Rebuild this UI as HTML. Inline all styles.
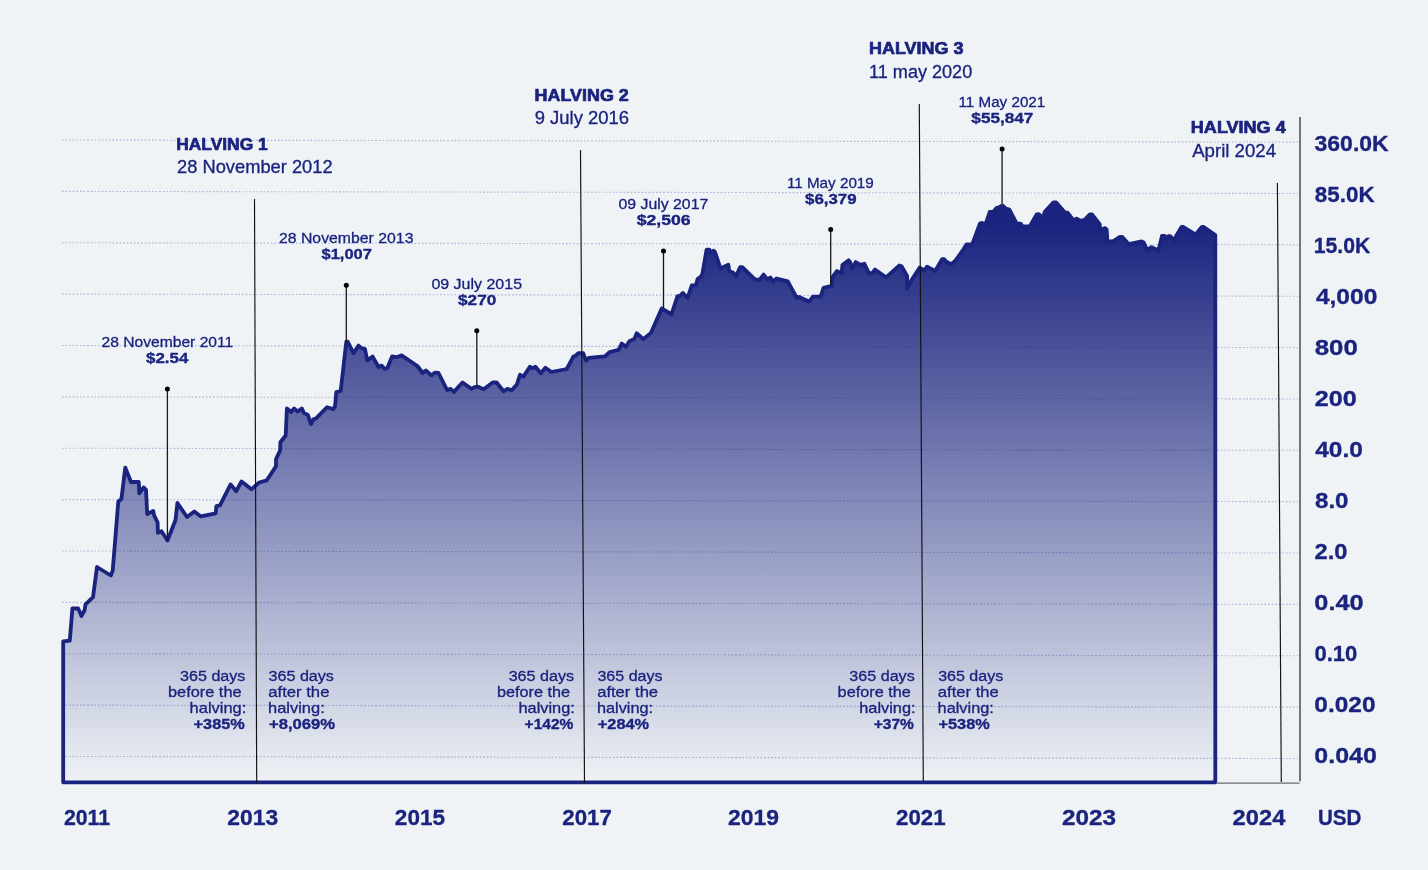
<!DOCTYPE html>
<html lang="en"><head><meta charset="utf-8"><title>Bitcoin halvings price chart</title>
<style>
html,body{margin:0;padding:0;background:#eff3f6;}
body{width:1428px;height:870px;overflow:hidden;}
svg{display:block;font-family:"Liberation Sans",Arial,Helvetica,sans-serif;}
</style></head><body>
<svg width="1428" height="870" viewBox="0 0 1428 870">
<defs>
<linearGradient id="g" gradientUnits="userSpaceOnUse" x1="0" y1="222" x2="0" y2="784">
<stop offset="0" stop-color="#1a237e" stop-opacity="1"/>
<stop offset="1" stop-color="#1a237e" stop-opacity="0"/>
</linearGradient>
</defs>
<rect width="1428" height="870" fill="#eff3f6"/>
<g stroke="#adb3da" stroke-width="1.1" stroke-dasharray="1.6 2" fill="none">
<line x1="62" y1="140.00" x2="1298" y2="142.10"/>
<line x1="62" y1="191.37" x2="1298" y2="193.47"/>
<line x1="62" y1="242.74" x2="1298" y2="244.84"/>
<line x1="62" y1="294.11" x2="1298" y2="296.21"/>
<line x1="62" y1="345.48" x2="1298" y2="347.58"/>
<line x1="62" y1="396.85" x2="1298" y2="398.95"/>
<line x1="62" y1="448.22" x2="1298" y2="450.32"/>
<line x1="62" y1="499.59" x2="1298" y2="501.69"/>
<line x1="62" y1="550.96" x2="1298" y2="553.06"/>
<line x1="62" y1="602.33" x2="1298" y2="604.43"/>
<line x1="62" y1="653.70" x2="1298" y2="655.80"/>
<line x1="62" y1="705.07" x2="1298" y2="707.17"/>
<line x1="62" y1="756.44" x2="1298" y2="758.54"/>
</g>
<path d="M63.2,782.3 L63.2,641.4 L69.8,640.6 L72.4,608.5 L78.2,608.5 L81.4,616.0 L84.5,610.5 L85.5,604.4 L93.0,597.2 L97.0,567.0 L110.8,575.5 L112.7,570.7 L118.3,501.4 L121.4,499.0 L125.3,467.6 L131.0,482.0 L138.8,482.0 L139.3,493.4 L143.6,487.4 L146.0,489.8 L147.2,514.0 L153.3,511.0 L154.2,515.6 L157.6,522.4 L157.9,532.8 L161.5,531.3 L167.5,540.5 L175.5,520.0 L177.4,503.0 L187.0,517.0 L194.3,511.5 L200.8,516.4 L215.7,513.4 L216.4,506.2 L220.0,505.4 L230.6,484.4 L236.2,491.2 L241.5,481.5 L251.4,489.3 L259.1,482.5 L266.8,480.3 L276.0,466.3 L276.0,459.1 L280.1,450.7 L280.4,442.2 L285.7,435.5 L286.9,408.4 L291.2,412.0 L294.1,408.4 L297.7,411.6 L301.8,408.4 L303.8,412.8 L307.9,415.0 L311.0,424.1 L313.4,419.3 L315.8,418.6 L327.2,407.2 L333.4,409.2 L335.1,406.0 L336.3,392.0 L340.7,391.0 L346.3,341.7 L347.7,341.7 L353.6,353.3 L358.5,345.6 L361.3,348.1 L364.9,348.8 L367.3,360.4 L372.5,356.5 L378.5,367.0 L381.6,365.6 L384.8,368.8 L387.3,368.1 L392.1,356.5 L396.7,357.2 L401.6,355.4 L417.4,366.0 L422.6,373.0 L425.9,370.5 L431.5,375.4 L434.8,372.6 L438.5,373.0 L447.1,390.1 L450.6,388.8 L453.9,391.9 L462.5,382.5 L471.4,388.8 L474.5,387.1 L478.0,386.7 L483.6,389.2 L492.7,382.5 L496.6,382.5 L503.6,391.3 L507.4,388.8 L511.6,390.2 L516.8,384.6 L520.0,374.8 L523.5,376.6 L529.8,366.8 L532.6,368.2 L535.4,366.8 L540.8,373.3 L545.4,367.7 L551.3,372.0 L566.7,369.0 L573.4,356.6 L575.5,355.9 L578.3,353.1 L583.2,353.1 L586.0,360.6 L588.8,357.8 L604.9,356.4 L609.8,352.0 L618.7,349.9 L621.7,343.6 L625.9,346.8 L629.4,341.2 L634.3,339.1 L636.7,333.2 L643.4,339.1 L650.9,332.9 L661.7,308.4 L671.5,314.4 L677.5,296.2 L679.9,295.8 L682.9,293.0 L687.6,297.9 L691.8,285.4 L696.0,285.2 L697.5,279.1 L701.0,276.6 L702.4,273.8 L706.6,249.6 L709.4,249.6 L710.5,252.5 L713.6,250.7 L715.0,252.1 L720.6,268.5 L728.3,264.7 L729.3,271.0 L732.9,272.4 L736.0,276.3 L740.2,267.1 L742.3,267.1 L754.6,279.2 L759.1,280.2 L763.6,274.6 L767.5,279.5 L770.3,277.4 L773.1,281.6 L776.6,278.5 L787.8,281.3 L796.9,298.1 L799.0,297.0 L809.1,301.6 L813.0,296.7 L820.7,296.7 L823.5,287.9 L831.9,285.8 L832.4,277.4 L836.8,271.1 L841.7,273.2 L842.4,265.1 L848.7,260.3 L850.1,262.1 L852.5,268.4 L855.7,262.1 L860.6,264.9 L864.4,263.8 L869.0,273.3 L872.5,272.9 L874.9,269.5 L886.1,277.4 L899.4,265.5 L901.5,266.2 L907.1,276.0 L907.1,288.6 L910.6,281.6 L919.7,267.6 L923.9,270.4 L927.1,266.7 L935.1,270.9 L942.1,259.2 L944.2,259.2 L946.3,261.7 L951.2,264.2 L955.4,260.7 L962.4,250.9 L966.6,244.3 L972.2,244.3 L979.9,223.6 L982.0,222.9 L985.5,224.3 L989.7,212.0 L993.2,211.7 L996.7,207.8 L998.9,207.5 L1002.4,205.4 L1005.9,208.6 L1009.4,209.6 L1016.6,223.3 L1020.6,223.6 L1022.7,226.4 L1029.7,226.4 L1036.7,214.5 L1038.8,214.2 L1043.0,218.0 L1044.8,211.7 L1053.5,202.4 L1056.2,202.4 L1064.7,212.3 L1067.5,212.7 L1073.8,220.7 L1076.6,218.6 L1080.1,220.7 L1084.3,220.0 L1089.9,214.4 L1092.0,214.4 L1099.7,224.2 L1100.1,229.8 L1105.3,228.1 L1106.7,229.8 L1107.4,241.4 L1113.0,241.4 L1120.0,236.8 L1122.1,236.8 L1128.9,244.2 L1141.7,241.4 L1143.6,242.4 L1147.3,250.1 L1151.5,247.1 L1158.5,250.5 L1162.0,235.9 L1164.8,235.9 L1165.5,240.4 L1168.3,236.2 L1170.4,236.2 L1174.6,240.8 L1176.0,236.2 L1181.7,226.8 L1183.1,226.8 L1195.7,234.5 L1202.0,226.8 L1203.4,226.8 L1215.3,235.1 L1215.3,782.3Z" fill="url(#g)" stroke="none"/>
<path d="M63.2,782.3 L63.2,641.4 L69.8,640.6 L72.4,608.5 L78.2,608.5 L81.4,616.0 L84.5,610.5 L85.5,604.4 L93.0,597.2 L97.0,567.0 L110.8,575.5 L112.7,570.7 L118.3,501.4 L121.4,499.0 L125.3,467.6 L131.0,482.0 L138.8,482.0 L139.3,493.4 L143.6,487.4 L146.0,489.8 L147.2,514.0 L153.3,511.0 L154.2,515.6 L157.6,522.4 L157.9,532.8 L161.5,531.3 L167.5,540.5 L175.5,520.0 L177.4,503.0 L187.0,517.0 L194.3,511.5 L200.8,516.4 L215.7,513.4 L216.4,506.2 L220.0,505.4 L230.6,484.4 L236.2,491.2 L241.5,481.5 L251.4,489.3 L259.1,482.5 L266.8,480.3 L276.0,466.3 L276.0,459.1 L280.1,450.7 L280.4,442.2 L285.7,435.5 L286.9,408.4 L291.2,412.0 L294.1,408.4 L297.7,411.6 L301.8,408.4 L303.8,412.8 L307.9,415.0 L311.0,424.1 L313.4,419.3 L315.8,418.6 L327.2,407.2 L333.4,409.2 L335.1,406.0 L336.3,392.0 L340.7,391.0 L346.3,341.7 L347.7,341.7 L353.6,353.3 L358.5,345.6 L361.3,348.1 L364.9,348.8 L367.3,360.4 L372.5,356.5 L378.5,367.0 L381.6,365.6 L384.8,368.8 L387.3,368.1 L392.1,356.5 L396.7,357.2 L401.6,355.4 L417.4,366.0 L422.6,373.0 L425.9,370.5 L431.5,375.4 L434.8,372.6 L438.5,373.0 L447.1,390.1 L450.6,388.8 L453.9,391.9 L462.5,382.5 L471.4,388.8 L474.5,387.1 L478.0,386.7 L483.6,389.2 L492.7,382.5 L496.6,382.5 L503.6,391.3 L507.4,388.8 L511.6,390.2 L516.8,384.6 L520.0,374.8 L523.5,376.6 L529.8,366.8 L532.6,368.2 L535.4,366.8 L540.8,373.3 L545.4,367.7 L551.3,372.0 L566.7,369.0 L573.4,356.6 L575.5,355.9 L578.3,353.1 L583.2,353.1 L586.0,360.6 L588.8,357.8 L604.9,356.4 L609.8,352.0 L618.7,349.9 L621.7,343.6 L625.9,346.8 L629.4,341.2 L634.3,339.1 L636.7,333.2 L643.4,339.1 L650.9,332.9 L661.7,308.4 L671.5,314.4 L677.5,296.2 L679.9,295.8 L682.9,293.0 L687.6,297.9 L691.8,285.4 L696.0,285.2 L697.5,279.1 L701.0,276.6 L702.4,273.8 L706.6,249.6 L709.4,249.6 L710.5,252.5 L713.6,250.7 L715.0,252.1 L720.6,268.5 L728.3,264.7 L729.3,271.0 L732.9,272.4 L736.0,276.3 L740.2,267.1 L742.3,267.1 L754.6,279.2 L759.1,280.2 L763.6,274.6 L767.5,279.5 L770.3,277.4 L773.1,281.6 L776.6,278.5 L787.8,281.3 L796.9,298.1 L799.0,297.0 L809.1,301.6 L813.0,296.7 L820.7,296.7 L823.5,287.9 L831.9,285.8 L832.4,277.4 L836.8,271.1 L841.7,273.2 L842.4,265.1 L848.7,260.3 L850.1,262.1 L852.5,268.4 L855.7,262.1 L860.6,264.9 L864.4,263.8 L869.0,273.3 L872.5,272.9 L874.9,269.5 L886.1,277.4 L899.4,265.5 L901.5,266.2 L907.1,276.0 L907.1,288.6 L910.6,281.6 L919.7,267.6 L923.9,270.4 L927.1,266.7 L935.1,270.9 L942.1,259.2 L944.2,259.2 L946.3,261.7 L951.2,264.2 L955.4,260.7 L962.4,250.9 L966.6,244.3 L972.2,244.3 L979.9,223.6 L982.0,222.9 L985.5,224.3 L989.7,212.0 L993.2,211.7 L996.7,207.8 L998.9,207.5 L1002.4,205.4 L1005.9,208.6 L1009.4,209.6 L1016.6,223.3 L1020.6,223.6 L1022.7,226.4 L1029.7,226.4 L1036.7,214.5 L1038.8,214.2 L1043.0,218.0 L1044.8,211.7 L1053.5,202.4 L1056.2,202.4 L1064.7,212.3 L1067.5,212.7 L1073.8,220.7 L1076.6,218.6 L1080.1,220.7 L1084.3,220.0 L1089.9,214.4 L1092.0,214.4 L1099.7,224.2 L1100.1,229.8 L1105.3,228.1 L1106.7,229.8 L1107.4,241.4 L1113.0,241.4 L1120.0,236.8 L1122.1,236.8 L1128.9,244.2 L1141.7,241.4 L1143.6,242.4 L1147.3,250.1 L1151.5,247.1 L1158.5,250.5 L1162.0,235.9 L1164.8,235.9 L1165.5,240.4 L1168.3,236.2 L1170.4,236.2 L1174.6,240.8 L1176.0,236.2 L1181.7,226.8 L1183.1,226.8 L1195.7,234.5 L1202.0,226.8 L1203.4,226.8 L1215.3,235.1 L1215.3,782.3Z" fill="none" stroke="#1a237e" stroke-width="3.8" stroke-linejoin="round"/>
<g stroke="#6b6d72" fill="none">
<line x1="1300" y1="117" x2="1300" y2="781.3" stroke-width="1.9"/>
<line x1="1216" y1="783.1" x2="1299.6" y2="783.1" stroke-width="1.4"/>
</g>
<g stroke="#111" stroke-width="1.15" fill="none">
<line x1="254.5" y1="199" x2="256.7" y2="783"/>
<line x1="580.5" y1="150" x2="584.5" y2="783"/>
<line x1="919.3" y1="104" x2="923.3" y2="781"/>
<line x1="1277.4" y1="183" x2="1281.3" y2="782"/>
</g>
<g stroke="#222" stroke-width="1.3" fill="#000">
<line x1="167.4" y1="389" x2="167.4" y2="541" stroke="#1a1a1a" stroke-width="1.3"/><circle cx="167.4" cy="389" r="2.5" stroke="none"/>
<line x1="346.3" y1="285.2" x2="346.3" y2="342" stroke="#1a1a1a" stroke-width="1.3"/><circle cx="346.3" cy="285.2" r="2.5" stroke="none"/>
<line x1="476.8" y1="330.7" x2="476.8" y2="386.5" stroke="#222" stroke-width="1.4"/><circle cx="476.8" cy="330.7" r="2.5" stroke="none"/>
<line x1="663.5" y1="251.1" x2="663.5" y2="308" stroke="#111" stroke-width="1.3"/><circle cx="663.5" cy="251.1" r="2.5" stroke="none"/>
<line x1="830.7" y1="229.6" x2="830.7" y2="285.5" stroke="#1a1a1a" stroke-width="1.3"/><circle cx="830.7" cy="229.6" r="2.5" stroke="none"/>
<line x1="1002.1" y1="149" x2="1002.1" y2="205" stroke="#4a4a4a" stroke-width="1.7"/><circle cx="1002.1" cy="149" r="2.5" stroke="none"/>
</g>
<g>
<text transform="translate(176.28,149.95) scale(1.0312,1)" font-size="16.86" font-weight="700" fill="#1a237e" stroke="#1a237e" stroke-width="0.7" stroke-linejoin="round">HALVING 1</text>
<text transform="translate(177.03,173.25) scale(1.0498,1)" font-size="17.44" font-weight="400" fill="#1a237e" stroke="#1a237e" stroke-width="0.3" stroke-linejoin="round">28 November 2012</text>
<text transform="translate(534.54,100.95) scale(1.0631,1)" font-size="16.86" font-weight="700" fill="#1a237e" stroke="#1a237e" stroke-width="0.7" stroke-linejoin="round">HALVING 2</text>
<text transform="translate(534.67,124.25) scale(1.0588,1)" font-size="17.44" font-weight="400" fill="#1a237e" stroke="#1a237e" stroke-width="0.3" stroke-linejoin="round">9 July 2016</text>
<text transform="translate(869.04,54.15) scale(1.0649,1)" font-size="16.86" font-weight="700" fill="#1a237e" stroke="#1a237e" stroke-width="0.7" stroke-linejoin="round">HALVING 3</text>
<text transform="translate(869.09,77.75) scale(1.0370,1)" font-size="17.44" font-weight="400" fill="#1a237e" stroke="#1a237e" stroke-width="0.3" stroke-linejoin="round">11 may 2020</text>
<text transform="translate(1190.83,133.15) scale(1.0701,1)" font-size="16.86" font-weight="700" fill="#1a237e" stroke="#1a237e" stroke-width="0.7" stroke-linejoin="round">HALVING 4</text>
<text transform="translate(1192.20,156.85) scale(1.0678,1)" font-size="17.44" font-weight="400" fill="#1a237e" stroke="#1a237e" stroke-width="0.3" stroke-linejoin="round">April 2024</text>
<text transform="translate(101.47,346.95) scale(1.0149,1)" font-size="15.41" font-weight="400" fill="#1a237e" stroke="#1a237e" stroke-width="0.3" stroke-linejoin="round">28 November 2011</text>
<text transform="translate(146.06,363.02) scale(1.1035,1)" font-size="15.33" font-weight="700" fill="#1a237e" stroke="#1a237e" stroke-width="0.35" stroke-linejoin="round">$2.54</text>
<text transform="translate(278.96,243.25) scale(1.0261,1)" font-size="15.41" font-weight="400" fill="#1a237e" stroke="#1a237e" stroke-width="0.3" stroke-linejoin="round">28 November 2013</text>
<text transform="translate(321.57,259.32) scale(1.0718,1)" font-size="15.33" font-weight="700" fill="#1a237e" stroke="#1a237e" stroke-width="0.35" stroke-linejoin="round">$1,007</text>
<text transform="translate(431.41,289.05) scale(1.0380,1)" font-size="15.41" font-weight="400" fill="#1a237e" stroke="#1a237e" stroke-width="0.3" stroke-linejoin="round">09 July 2015</text>
<text transform="translate(458.06,305.12) scale(1.1194,1)" font-size="15.33" font-weight="700" fill="#1a237e" stroke="#1a237e" stroke-width="0.35" stroke-linejoin="round">$270</text>
<text transform="translate(618.42,209.35) scale(1.0294,1)" font-size="15.41" font-weight="400" fill="#1a237e" stroke="#1a237e" stroke-width="0.3" stroke-linejoin="round">09 July 2017</text>
<text transform="translate(636.65,225.12) scale(1.1515,1)" font-size="15.33" font-weight="700" fill="#1a237e" stroke="#1a237e" stroke-width="0.35" stroke-linejoin="round">$2,506</text>
<text transform="translate(786.91,187.75) scale(0.9885,1)" font-size="15.41" font-weight="400" fill="#1a237e" stroke="#1a237e" stroke-width="0.3" stroke-linejoin="round">11 May 2019</text>
<text transform="translate(805.06,203.82) scale(1.0995,1)" font-size="15.33" font-weight="700" fill="#1a237e" stroke="#1a237e" stroke-width="0.35" stroke-linejoin="round">$6,379</text>
<text transform="translate(958.51,106.95) scale(0.9866,1)" font-size="15.41" font-weight="400" fill="#1a237e" stroke="#1a237e" stroke-width="0.3" stroke-linejoin="round">11 May 2021</text>
<text transform="translate(971.36,123.03) scale(1.1191,1)" font-size="15.33" font-weight="700" fill="#1a237e" stroke="#1a237e" stroke-width="0.35" stroke-linejoin="round">$55,847</text>
<text transform="translate(180.05,680.85) scale(1.0456,1)" font-size="15.41" font-weight="400" fill="#1a237e" stroke="#1a237e" stroke-width="0.3" stroke-linejoin="round">365 days</text>
<text transform="translate(167.99,696.95) scale(1.0603,1)" font-size="15.41" font-weight="400" fill="#1a237e" stroke="#1a237e" stroke-width="0.3" stroke-linejoin="round">before the</text>
<text transform="translate(189.60,712.95) scale(1.0681,1)" font-size="15.41" font-weight="400" fill="#1a237e" stroke="#1a237e" stroke-width="0.3" stroke-linejoin="round">halving:</text>
<text transform="translate(193.58,728.73) scale(1.0623,1)" font-size="15.33" font-weight="700" fill="#1a237e" stroke="#1a237e" stroke-width="0.35" stroke-linejoin="round">+385%</text>
<text transform="translate(268.55,680.85) scale(1.0456,1)" font-size="15.41" font-weight="400" fill="#1a237e" stroke="#1a237e" stroke-width="0.3" stroke-linejoin="round">365 days</text>
<text transform="translate(268.24,696.95) scale(1.0834,1)" font-size="15.41" font-weight="400" fill="#1a237e" stroke="#1a237e" stroke-width="0.3" stroke-linejoin="round">after the</text>
<text transform="translate(268.00,712.95) scale(1.0681,1)" font-size="15.41" font-weight="400" fill="#1a237e" stroke="#1a237e" stroke-width="0.3" stroke-linejoin="round">halving:</text>
<text transform="translate(268.97,728.73) scale(1.0856,1)" font-size="15.33" font-weight="700" fill="#1a237e" stroke="#1a237e" stroke-width="0.35" stroke-linejoin="round">+8,069%</text>
<text transform="translate(508.65,680.85) scale(1.0456,1)" font-size="15.41" font-weight="400" fill="#1a237e" stroke="#1a237e" stroke-width="0.3" stroke-linejoin="round">365 days</text>
<text transform="translate(496.89,696.95) scale(1.0559,1)" font-size="15.41" font-weight="400" fill="#1a237e" stroke="#1a237e" stroke-width="0.3" stroke-linejoin="round">before the</text>
<text transform="translate(518.50,712.95) scale(1.0622,1)" font-size="15.41" font-weight="400" fill="#1a237e" stroke="#1a237e" stroke-width="0.3" stroke-linejoin="round">halving:</text>
<text transform="translate(524.62,728.73) scale(1.0113,1)" font-size="15.33" font-weight="700" fill="#1a237e" stroke="#1a237e" stroke-width="0.35" stroke-linejoin="round">+142%</text>
<text transform="translate(597.45,680.85) scale(1.0408,1)" font-size="15.41" font-weight="400" fill="#1a237e" stroke="#1a237e" stroke-width="0.3" stroke-linejoin="round">365 days</text>
<text transform="translate(597.14,696.95) scale(1.0798,1)" font-size="15.41" font-weight="400" fill="#1a237e" stroke="#1a237e" stroke-width="0.3" stroke-linejoin="round">after the</text>
<text transform="translate(596.91,712.95) scale(1.0582,1)" font-size="15.41" font-weight="400" fill="#1a237e" stroke="#1a237e" stroke-width="0.3" stroke-linejoin="round">halving:</text>
<text transform="translate(597.78,728.73) scale(1.0644,1)" font-size="15.33" font-weight="700" fill="#1a237e" stroke="#1a237e" stroke-width="0.35" stroke-linejoin="round">+284%</text>
<text transform="translate(849.35,680.85) scale(1.0456,1)" font-size="15.41" font-weight="400" fill="#1a237e" stroke="#1a237e" stroke-width="0.3" stroke-linejoin="round">365 days</text>
<text transform="translate(837.59,696.95) scale(1.0559,1)" font-size="15.41" font-weight="400" fill="#1a237e" stroke="#1a237e" stroke-width="0.3" stroke-linejoin="round">before the</text>
<text transform="translate(859.20,712.95) scale(1.0622,1)" font-size="15.41" font-weight="400" fill="#1a237e" stroke="#1a237e" stroke-width="0.3" stroke-linejoin="round">halving:</text>
<text transform="translate(873.71,728.73) scale(1.0167,1)" font-size="15.33" font-weight="700" fill="#1a237e" stroke="#1a237e" stroke-width="0.35" stroke-linejoin="round">+37%</text>
<text transform="translate(938.15,680.85) scale(1.0408,1)" font-size="15.41" font-weight="400" fill="#1a237e" stroke="#1a237e" stroke-width="0.3" stroke-linejoin="round">365 days</text>
<text transform="translate(937.84,696.95) scale(1.0780,1)" font-size="15.41" font-weight="400" fill="#1a237e" stroke="#1a237e" stroke-width="0.3" stroke-linejoin="round">after the</text>
<text transform="translate(937.61,712.95) scale(1.0582,1)" font-size="15.41" font-weight="400" fill="#1a237e" stroke="#1a237e" stroke-width="0.3" stroke-linejoin="round">halving:</text>
<text transform="translate(938.48,728.73) scale(1.0644,1)" font-size="15.33" font-weight="700" fill="#1a237e" stroke="#1a237e" stroke-width="0.35" stroke-linejoin="round">+538%</text>
<text transform="translate(63.91,824.55) scale(0.9961,1)" font-size="21.37" font-weight="700" fill="#1a237e" stroke="#1a237e" stroke-width="0.3" stroke-linejoin="round">2011</text>
<text transform="translate(227.35,824.55) scale(1.0698,1)" font-size="21.37" font-weight="700" fill="#1a237e" stroke="#1a237e" stroke-width="0.3" stroke-linejoin="round">2013</text>
<text transform="translate(394.86,824.55) scale(1.0552,1)" font-size="21.37" font-weight="700" fill="#1a237e" stroke="#1a237e" stroke-width="0.3" stroke-linejoin="round">2015</text>
<text transform="translate(562.27,824.55) scale(1.0430,1)" font-size="21.37" font-weight="700" fill="#1a237e" stroke="#1a237e" stroke-width="0.3" stroke-linejoin="round">2017</text>
<text transform="translate(727.95,824.55) scale(1.0719,1)" font-size="21.37" font-weight="700" fill="#1a237e" stroke="#1a237e" stroke-width="0.3" stroke-linejoin="round">2019</text>
<text transform="translate(896.07,824.55) scale(1.0422,1)" font-size="21.37" font-weight="700" fill="#1a237e" stroke="#1a237e" stroke-width="0.3" stroke-linejoin="round">2021</text>
<text transform="translate(1062.00,824.55) scale(1.1372,1)" font-size="21.37" font-weight="700" fill="#1a237e" stroke="#1a237e" stroke-width="0.3" stroke-linejoin="round">2023</text>
<text transform="translate(1232.62,824.55) scale(1.1087,1)" font-size="21.37" font-weight="700" fill="#1a237e" stroke="#1a237e" stroke-width="0.3" stroke-linejoin="round">2024</text>
<text transform="translate(1317.91,824.55) scale(0.9640,1)" font-size="21.37" font-weight="700" fill="#1a237e" stroke="#1a237e" stroke-width="0.3" stroke-linejoin="round">USD</text>
<text transform="translate(1314.53,150.65) scale(1.0760,1)" font-size="21.37" font-weight="700" fill="#1a237e" stroke="#1a237e" stroke-width="0.3" stroke-linejoin="round">360.0K</text>
<text transform="translate(1314.82,201.72) scale(1.0491,1)" font-size="21.37" font-weight="700" fill="#1a237e" stroke="#1a237e" stroke-width="0.3" stroke-linejoin="round">85.0K</text>
<text transform="translate(1313.72,252.79) scale(0.9928,1)" font-size="21.37" font-weight="700" fill="#1a237e" stroke="#1a237e" stroke-width="0.3" stroke-linejoin="round">15.0K</text>
<text transform="translate(1315.88,303.86) scale(1.1493,1)" font-size="21.37" font-weight="700" fill="#1a237e" stroke="#1a237e" stroke-width="0.3" stroke-linejoin="round">4,000</text>
<text transform="translate(1314.71,354.93) scale(1.2089,1)" font-size="21.37" font-weight="700" fill="#1a237e" stroke="#1a237e" stroke-width="0.3" stroke-linejoin="round">800</text>
<text transform="translate(1314.67,406.00) scale(1.1785,1)" font-size="21.37" font-weight="700" fill="#1a237e" stroke="#1a237e" stroke-width="0.3" stroke-linejoin="round">200</text>
<text transform="translate(1315.18,457.07) scale(1.1465,1)" font-size="21.37" font-weight="700" fill="#1a237e" stroke="#1a237e" stroke-width="0.3" stroke-linejoin="round">40.0</text>
<text transform="translate(1314.97,508.14) scale(1.1296,1)" font-size="21.37" font-weight="700" fill="#1a237e" stroke="#1a237e" stroke-width="0.3" stroke-linejoin="round">8.0</text>
<text transform="translate(1314.52,559.21) scale(1.1069,1)" font-size="21.37" font-weight="700" fill="#1a237e" stroke="#1a237e" stroke-width="0.3" stroke-linejoin="round">2.0</text>
<text transform="translate(1314.34,610.28) scale(1.1845,1)" font-size="21.37" font-weight="700" fill="#1a237e" stroke="#1a237e" stroke-width="0.3" stroke-linejoin="round">0.40</text>
<text transform="translate(1314.47,661.35) scale(1.0314,1)" font-size="21.37" font-weight="700" fill="#1a237e" stroke="#1a237e" stroke-width="0.3" stroke-linejoin="round">0.10</text>
<text transform="translate(1314.37,712.42) scale(1.1437,1)" font-size="21.37" font-weight="700" fill="#1a237e" stroke="#1a237e" stroke-width="0.3" stroke-linejoin="round">0.020</text>
<text transform="translate(1314.35,763.49) scale(1.1669,1)" font-size="21.37" font-weight="700" fill="#1a237e" stroke="#1a237e" stroke-width="0.3" stroke-linejoin="round">0.040</text>
</g>
</svg>
</body></html>
